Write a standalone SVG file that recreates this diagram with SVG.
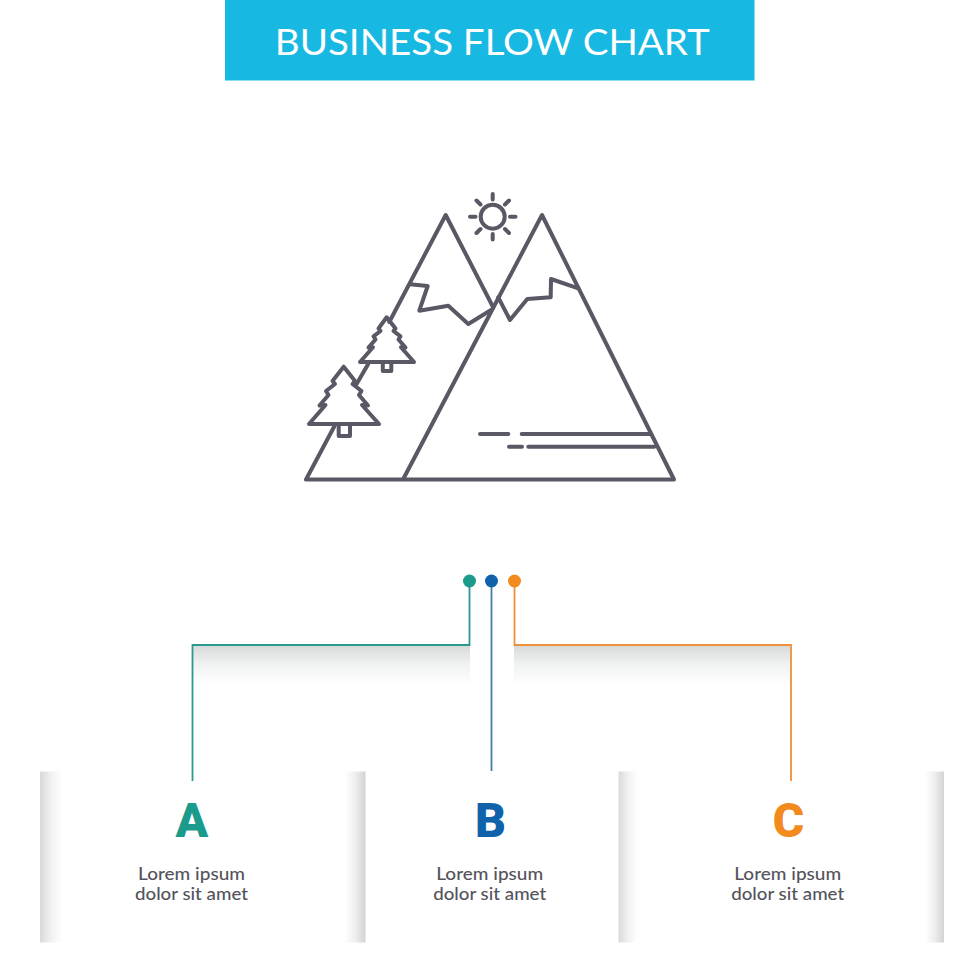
<svg xmlns="http://www.w3.org/2000/svg" width="980" height="980" viewBox="0 0 980 980">
<style>
.ink{fill:none;stroke:#5a5864;stroke-width:4;stroke-linecap:round;stroke-linejoin:round}
.body{font-family:"Lato","Liberation Sans",sans-serif;font-size:17.5px;font-weight:500;fill:#55535c;text-anchor:middle}
.letter{font-family:"Roboto","Liberation Sans",sans-serif;font-size:48px;font-weight:900;text-anchor:middle}
.wire{fill:none;stroke-width:1.8}
</style>
<defs>
<linearGradient id="down" x1="0" y1="0" x2="0" y2="1"><stop offset="0" stop-color="#d8dada"/><stop offset=".45" stop-color="#eff0f0"/><stop offset="1" stop-color="#fff"/></linearGradient>
<linearGradient id="toRight" x1="0" y1="0" x2="1" y2="0"><stop offset="0" stop-color="#d8d9d9"/><stop offset=".5" stop-color="#f1f1f1"/><stop offset="1" stop-color="#fff"/></linearGradient>
<linearGradient id="toLeft" x1="1" y1="0" x2="0" y2="0"><stop offset="0" stop-color="#d2d3d3"/><stop offset=".5" stop-color="#eeeeee"/><stop offset="1" stop-color="#fff"/></linearGradient>
</defs>
<rect width="980" height="980" fill="#fff"/>
<g id="banner">
<rect x="225" width="529.500" height="80.500" fill="#17b9e2"/>
<text x="492.300" y="55.300" font-family="Lato,'Liberation Sans',sans-serif" font-size="36.500" fill="#000" fill-opacity=".12" text-anchor="middle" textLength="435" lengthAdjust="spacingAndGlyphs">BUSINESS FLOW CHART</text>
<text x="492.300" y="54.500" font-family="Lato,'Liberation Sans',sans-serif" font-size="36.500" fill="#fff" text-anchor="middle" textLength="435" lengthAdjust="spacingAndGlyphs">BUSINESS FLOW CHART</text>
</g>
<g id="mountains" class="ink">
<path d="M334.500 426L306 479.500H674L542 215L403 479.500"/>
<path d="M356.600 384L368.200 364"/>
<path d="M389.300 322L445.700 215L493 307"/>
<path d="M410 284.300L427.700 286L419.300 310.700L448.300 305.700L468.300 324L492.300 309.300"/>
<path d="M498.300 297.300L510 320L527.300 299L550.700 297.300L551 279L578.300 288.300"/>
<path d="M480 434H508.300M521.700 434H650M509 446.700H522M528.300 446.700H654.300"/>
</g>
<g id="sun" class="ink">
<circle cx="492.700" cy="216.700" r="12"/>
<path d="M492.700 194V199.500M492.700 234V239.500M470 216.700H475.500M510 216.700H515.500M476.500 200.500L480.500 204.500M505 229L509 233M476.500 233L480.500 229M505 204.500L509 200.500"/>
</g>
<g id="tree-lower" class="ink">
<path d="M343.700 366.700L355 381L352.500 384L361.500 391L359 395L368 405.500L362 405L379 424H309L325.500 405L319.500 405.500L328.500 395L326 391L335 384L332.500 381Z"/>
<path d="M338.700 425V436H350V425"/>
</g>
<g id="tree-upper" class="ink">
<path d="M386.700 317.300L395.500 328.500L393.500 331L400.500 336.300L398.500 339.500L405.500 347.500L401 347.200L414 362H360L373 347.200L368.500 347.500L375.500 339.500L373.500 336.300L380.500 331L378.500 328.500Z"/>
<path d="M382.800 363V371H391.300V363"/>
</g>
<g id="connectors">
<rect x="193" y="646" width="277" height="38" fill="url(#down)"/>
<rect x="514" y="646" width="277" height="38" fill="url(#down)"/>
<path class="wire" stroke="#2a9a8e" d="M469.500 581V645H192.500V781"/>
<path class="wire" stroke="#3f7fa8" d="M491.500 581V771"/>
<path class="wire" stroke="#f0903a" d="M514.500 581V645H791V781"/>
<circle cx="469.500" cy="581" r="6.500" fill="#1a9b8c"/>
<circle cx="491.500" cy="581" r="6.500" fill="#1062ab"/>
<circle cx="514.500" cy="581" r="6.500" fill="#f28a1e"/>
</g>
<g id="node-a">
<rect x="40" y="771.500" width="22" height="171" fill="url(#toRight)"/>
<rect x="345" y="771.500" width="20.500" height="171" fill="url(#toLeft)"/>
<text class="letter" x="191.800" y="837.300" fill="#1a9b8c">A</text>
<text class="body" x="191.500" y="880.200" textLength="107" lengthAdjust="spacingAndGlyphs">Lorem ipsum</text>
<text class="body" x="191.500" y="900.200" textLength="113" lengthAdjust="spacingAndGlyphs">dolor sit amet</text>
</g>
<g id="node-b">
<text class="letter" x="490.500" y="837.300" fill="#1062ab">B</text>
<text class="body" x="489.700" y="880.200" textLength="107" lengthAdjust="spacingAndGlyphs">Lorem ipsum</text>
<text class="body" x="489.700" y="900.200" textLength="113" lengthAdjust="spacingAndGlyphs">dolor sit amet</text>
</g>
<g id="node-c">
<rect x="618.500" y="771.500" width="19" height="171" fill="url(#toRight)"/>
<rect x="925" y="771.500" width="19" height="171" fill="url(#toLeft)"/>
<text class="letter" x="788.500" y="837.300" fill="#f28a1e">C</text>
<text class="body" x="787.700" y="880.200" textLength="107" lengthAdjust="spacingAndGlyphs">Lorem ipsum</text>
<text class="body" x="787.700" y="900.200" textLength="113" lengthAdjust="spacingAndGlyphs">dolor sit amet</text>
</g>
</svg>
